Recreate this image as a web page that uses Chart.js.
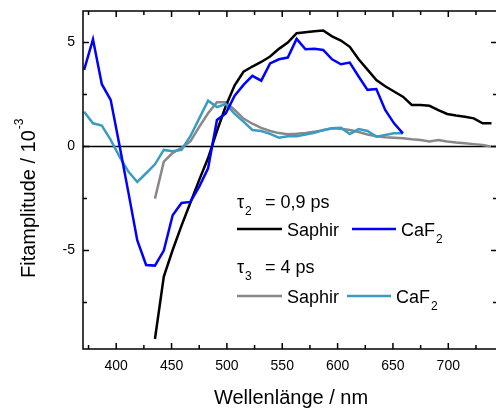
<!DOCTYPE html>
<html>
<head>
<meta charset="utf-8">
<script src="https://cdn.jsdelivr.net/npm/chart.js@4.4.0/dist/chart.umd.min.js"></script>
<style>
  html, body { margin: 0; padding: 0; background: #fff; overflow: hidden; }
  #wrap { width: 500px; height: 408px; }
</style>
</head>
<body>
<div id="wrap"><canvas id="fitChart" width="500" height="408"></canvas></div>
<script>
// Wellenlängen (nm)
const wlCaF2 = [371, 379, 387, 395, 403, 411, 419, 427, 435, 443, 451, 459, 467, 475, 483, 491, 499, 507, 515,
  523, 531, 539, 547, 555, 563, 571, 579, 587, 595, 603, 611, 619, 627, 635, 643, 651, 659];
const wlSaphir = [435, 443, 451, 459, 467, 475, 483, 491, 499, 507, 515, 523, 531, 539, 547, 555, 563, 571, 579,
  587, 595, 603, 611, 619, 627, 635, 643, 651, 659, 667, 675, 683, 691, 699, 707, 715, 723, 731, 739];

// Fitamplituden (10^-3)
const caf2Tau2 = [3.69, 5.16, 3.0, 2.25, 0.05, -2.2, -4.5, -5.69, -5.72, -5.0, -3.3, -2.71, -2.66, -1.92, -1.04,
  1.28, 1.6, 2.45, 2.97, 3.4, 3.17, 4.0, 4.2, 4.28, 5.18, 4.68, 4.7, 4.65, 4.2, 3.96, 4.04, 3.37, 2.73, 2.77,
  1.76, 1.12, 0.64];
const caf2Tau3 = [1.68, 1.12, 1.01, 0.32, -0.48, -1.2, -1.7, -1.28, -0.85, -0.16, -0.22, -0.15, 0.5, 1.36, 2.21,
  1.9, 2.05, 1.57, 1.2, 0.8, 0.75, 0.61, 0.43, 0.5, 0.5, 0.58, 0.67, 0.8, 0.88, 0.91, 0.61, 0.84, 0.75, 0.48,
  0.56, 0.64, 0.64];
const saphirTau2 = [-9.25, -6.25, -4.97, -3.8, -2.7, -1.6, -0.55, 0.75, 1.95, 2.95, 3.6, 3.85, 4.07, 4.33, 4.7,
  5.0, 5.45, 5.5, 5.55, 5.58, 5.3, 5.1, 4.8, 4.2, 3.7, 3.2, 2.9, 2.65, 2.4, 2.0, 2.0, 1.96, 1.76, 1.57, 1.5,
  1.44, 1.36, 1.12, 1.12];
const saphirTau3 = [-2.5, -0.72, -0.3, -0.06, 0.25, 0.95, 1.6, 2.13, 2.13, 1.76, 1.35, 1.1, 0.9, 0.75, 0.65,
  0.6, 0.62, 0.66, 0.72, 0.78, 0.88, 0.86, 0.8, 0.7, 0.58, 0.5, 0.45, 0.43, 0.4, 0.35, 0.32, 0.25, 0.32, 0.25,
  0.2, 0.16, 0.12, 0.08, 0.0];

const xTickLabels = [400, 450, 500, 550, 600, 650, 700];
const xMinorTicks = [375, 425, 475, 525, 575, 625, 675, 725];
const yTickLabels = [-5, 0, 5];
const yMinorTicks = [-7.5, -2.5, 2.5];

const FONT = '"Liberation Sans", Arial, sans-serif';

function toPoints(xs, ys) {
  return xs.map((x, i) => ({ x: x, y: ys[i] }));
}

// Rahmen, Ticks nach innen, Achsentitel und Legende
const framePlugin = {
  id: "frame",
  beforeDatasetsDraw(chart) {
    const { ctx, chartArea, scales } = chart;
    const y0 = scales.y.getPixelForValue(0);
    ctx.save();
    ctx.strokeStyle = "#000";
    ctx.lineWidth = 1.5;
    ctx.beginPath();
    ctx.moveTo(chartArea.left, y0);
    ctx.lineTo(chartArea.right, y0);
    ctx.stroke();
    ctx.restore();
  },
  afterDraw(chart) {
    const { ctx, chartArea, scales } = chart;
    const { left, right, top, bottom } = chartArea;
    ctx.save();
    ctx.strokeStyle = "#000";
    ctx.lineWidth = 1.5;
    ctx.strokeRect(left, top, right - left, bottom - top);

    ctx.beginPath();
    const xTick = (v, len) => {
      const px = scales.x.getPixelForValue(v);
      ctx.moveTo(px, bottom); ctx.lineTo(px, bottom - len);
      ctx.moveTo(px, top); ctx.lineTo(px, top + len);
    };
    const yTick = (v, len) => {
      const py = scales.y.getPixelForValue(v);
      ctx.moveTo(left, py); ctx.lineTo(left + len, py);
      ctx.moveTo(right, py); ctx.lineTo(right - len, py);
    };
    xTickLabels.forEach((v) => xTick(v, 6));
    xMinorTicks.forEach((v) => xTick(v, 4));
    yTickLabels.forEach((v) => yTick(v, 6));
    yMinorTicks.forEach((v) => yTick(v, 4));
    ctx.stroke();

    ctx.fillStyle = "#000";
    // x-Titel
    ctx.font = "20px " + FONT;
    ctx.textAlign = "center";
    ctx.textBaseline = "alphabetic";
    ctx.fillText("Wellenlänge / nm", 291, 404);

    // y-Titel mit Hochzahl
    ctx.save();
    ctx.translate(35, 278);
    ctx.rotate(-Math.PI / 2);
    ctx.textAlign = "left";
    ctx.font = "20px " + FONT;
    const main = "Fitamplitude / 10";
    ctx.fillText(main, 0, 0);
    const w = ctx.measureText(main).width;
    ctx.font = "12px " + FONT;
    ctx.fillText("-3", w + 1, -12);
    ctx.restore();

    // Legende
    ctx.textAlign = "left";
    const label = (sym, sub, rest, x, y) => {
      ctx.font = "18px " + FONT;
      ctx.fillText(sym, x, y);
      const sw = ctx.measureText(sym).width;
      ctx.font = "12px " + FONT;
      ctx.fillText(sub, x + sw + 1, y + 7);
      if (rest) {
        ctx.font = "18px " + FONT;
        ctx.fillText(rest, x + 28, y);
      }
    };
    const sample = (color, x1, x2, y) => {
      ctx.strokeStyle = color;
      ctx.lineWidth = 2.5;
      ctx.beginPath();
      ctx.moveTo(x1, y); ctx.lineTo(x2, y);
      ctx.stroke();
    };

    label("τ", "2", "= 0,9 ps", 237, 208);
    sample("#000000", 237, 282, 229);
    ctx.font = "18px " + FONT;
    ctx.fillText("Saphir", 287, 236);
    sample("#0000ff", 352, 396, 229);
    label("CaF", "2", null, 401, 236);

    label("τ", "3", "= 4 ps", 237, 273);
    sample("#888888", 237, 282, 296);
    ctx.font = "18px " + FONT;
    ctx.fillText("Saphir", 287, 303);
    sample("#3a9cc2", 347, 391, 296);
    label("CaF", "2", null, 396, 303);

    ctx.restore();
  },
};

const ctx = document.getElementById("fitChart").getContext("2d");

new Chart(ctx, {
  type: "line",
  data: {
    datasets: [
      { label: "CaF2 τ2", data: toPoints(wlCaF2, caf2Tau2), borderColor: "#0000ff", order: 0 },
      { label: "CaF2 τ3", data: toPoints(wlCaF2, caf2Tau3), borderColor: "#3a9cc2", order: 1 },
      { label: "Saphir τ2", data: toPoints(wlSaphir, saphirTau2), borderColor: "#000000", order: 2 },
      { label: "Saphir τ3", data: toPoints(wlSaphir, saphirTau3), borderColor: "#888888", order: 3 },
    ],
  },
  options: {
    responsive: false,
    animation: false,
    devicePixelRatio: 1,
    layout: { padding: { top: 11, right: 3, left: 0, bottom: 0 } },
    elements: {
      point: { radius: 0 },
      line: { borderWidth: 2.5, tension: 0, fill: false },
    },
    plugins: {
      legend: { display: false },
      tooltip: { enabled: false },
    },
    scales: {
      x: {
        type: "linear",
        min: 370,
        max: 744,
        afterBuildTicks: (scale) => {
          scale.ticks = xTickLabels.map((v) => ({ value: v }));
        },
        afterFit: (scale) => {
          scale.height = 59;
          scale.paddingLeft = 0;
          scale.paddingRight = 0;
        },
        grid: { display: false, drawTicks: false },
        border: { display: false },
        ticks: {
          color: "#000",
          padding: 9,
          maxRotation: 0,
          autoSkip: false,
          font: { family: FONT, size: 14 },
        },
      },
      y: {
        type: "linear",
        min: -9.73,
        max: 6.52,
        afterBuildTicks: (scale) => {
          scale.ticks = yTickLabels.map((v) => ({ value: v }));
        },
        afterFit: (scale) => {
          scale.width = 83;
          scale.paddingTop = 0;
          scale.paddingBottom = 0;
        },
        grid: { display: false, drawTicks: false },
        border: { display: false },
        ticks: {
          color: "#000",
          padding: 8,
          font: { family: FONT, size: 14 },
        },
      },
    },
  },
  plugins: [framePlugin],
});
</script>
</body>
</html>
